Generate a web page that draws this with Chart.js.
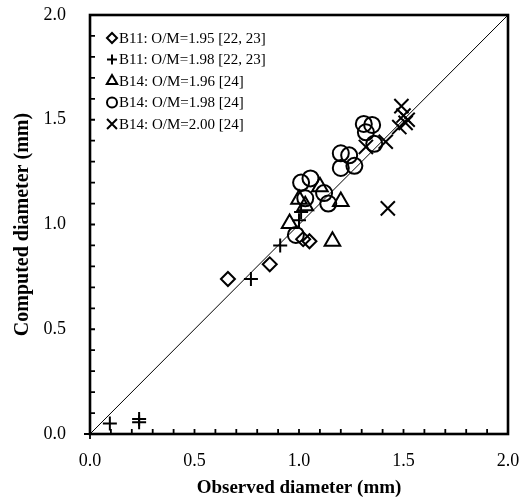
<!DOCTYPE html>
<html>
<head>
<meta charset="utf-8">
<script src="https://cdn.jsdelivr.net/npm/chart.js@4.4.1/dist/chart.umd.min.js"></script>
<style>
  html, body { margin: 0; padding: 0; background: #fff; }
</style>
</head>
<body>
<canvas id="chart" width="520" height="500"></canvas>
<script>
// Series names (legend)
const seriesNames = [
  'B11: O/M=1.95 [22, 23]',
  'B11: O/M=1.98 [22, 23]',
  'B14: O/M=1.96 [24]',
  'B14: O/M=1.98 [24]',
  'B14: O/M=2.00 [24]'
];

// Observed (x) and computed (y) diameters, mm
const b11_195_x = [0.66, 0.86, 1.02, 1.05];
const b11_195_y = [0.74, 0.81, 0.93, 0.92];

const b11_198_x = [0.095, 0.235, 0.235, 0.77, 0.91, 1.00, 1.01];
const b11_198_y = [0.05, 0.056, 0.072, 0.74, 0.90, 1.02, 1.06];

const b14_196_x = [0.955, 1.00, 1.03, 1.10, 1.20, 1.16];
const b14_196_y = [1.005, 1.12, 1.09, 1.18, 1.11, 0.92];

const b14_198_x = [0.985, 1.01, 1.055, 1.03, 1.12, 1.14, 1.20, 1.24, 1.20, 1.265, 1.31, 1.35, 1.32, 1.36];
const b14_198_y = [0.95, 1.20, 1.22, 1.125, 1.15, 1.10, 1.34, 1.33, 1.27, 1.28, 1.48, 1.475, 1.44, 1.385];

const b14_200_x = [1.49, 1.50, 1.52, 1.51, 1.48, 1.415, 1.32, 1.425];
const b14_200_y = [1.565, 1.52, 1.50, 1.485, 1.465, 1.395, 1.37, 1.077];

// 1:1 line
const diagX = [0, 2];
const diagY = [0, 2];

// Axis ticks
const tickValues = [0, 0.5, 1.0, 1.5, 2.0];
const minorStep = 0.1;

function pts(xs, ys) {
  return xs.map((x, i) => ({ x: x, y: ys[i] }));
}

const pointStyles = ['rectRot', 'cross', 'triangle', 'circle', 'crossRot'];
const pointSizes = [7, 7, 9, 8, 10];
const allX = [b11_195_x, b11_198_x, b14_196_x, b14_198_x, b14_200_x];
const allY = [b11_195_y, b11_198_y, b14_196_y, b14_198_y, b14_200_y];

const datasets = seriesNames.map((name, i) => ({
  type: 'scatter',
  label: name,
  data: pts(allX[i], allY[i]),
  pointStyle: pointStyles[i],
  pointRadius: pointSizes[i],
  borderColor: '#000',
  backgroundColor: 'rgba(0,0,0,0)',
  pointBorderWidth: 2
}));

datasets.unshift({
  type: 'line',
  label: '1:1',
  data: pts(diagX, diagY),
  borderColor: '#000',
  borderWidth: 1,
  pointRadius: 0,
  fill: false
});

// Frame, inward ticks and legend inside the plot
const decorations = {
  id: 'decorations',
  afterDraw(chart) {
    const ctx = chart.ctx;
    const a = chart.chartArea;
    const xs = chart.scales.x;
    const ys = chart.scales.y;
    ctx.save();
    ctx.strokeStyle = '#000';

    // minor + major ticks, inward
    ctx.lineWidth = 1.8;
    ctx.beginPath();
    for (let k = 0; k <= 20; k++) {
      const v = k * minorStep;
      const px = xs.getPixelForValue(v);
      ctx.moveTo(px, a.bottom);
      ctx.lineTo(px, a.bottom - 5);
      const py = ys.getPixelForValue(v);
      ctx.moveTo(a.left, py);
      ctx.lineTo(a.left + 5, py);
    }
    // small outward stubs at origin
    ctx.moveTo(a.left, a.bottom);
    ctx.lineTo(a.left, a.bottom + 5);
    ctx.moveTo(a.left, a.bottom);
    ctx.lineTo(a.left - 6, a.bottom);
    ctx.stroke();

    // frame
    ctx.lineWidth = 2.6;
    ctx.strokeRect(a.left, a.top, a.right - a.left, a.bottom - a.top);

    // legend
    ctx.font = '15px "Liberation Serif", "Times New Roman", serif';
    ctx.textBaseline = 'middle';
    ctx.textAlign = 'left';
    seriesNames.forEach((name, i) => {
      const y = a.top + 23 + i * 21.5;
      const mx = a.left + 22;
      ctx.lineWidth = 2;
      ctx.fillStyle = 'rgba(0,0,0,0)';
      Chart.helpers.drawPoint(ctx, {
        pointStyle: pointStyles[i],
        radius: i === 4 ? 7 : (i === 2 ? 6 : 5),
        rotation: 0,
        borderWidth: 2
      }, mx, y);
      ctx.fillStyle = '#000';
      ctx.fillText(name, mx + 7, y + 1);
    });
    ctx.restore();
  }
};

const serif = '"Liberation Serif", "Times New Roman", serif';
const tickFont = { family: serif, size: 18 };

const ctx = document.getElementById('chart').getContext('2d');
const chart = new Chart(ctx, {
  data: { datasets: datasets },
  options: {
    responsive: false,
    animation: false,
    layout: { padding: { top: 15, right: 11, left: 0, bottom: 0 } },
    scales: {
      x: {
        type: 'linear',
        min: 0,
        max: 2,
        grid: { display: false },
        border: { display: false },
        afterBuildTicks(scale) {
          scale.ticks = tickValues.map(v => ({ value: v }));
        },
        afterFit(scale) {
          scale.height = 66;
          scale.paddingLeft = 0;
          scale.paddingRight = 0;
        },
        ticks: {
          color: '#000',
          font: tickFont,
          padding: 8,
          maxRotation: 0,
          callback: v => v.toFixed(1)
        },
        title: {
          display: true,
          text: 'Observed diameter (mm)',
          color: '#000',
          font: { family: serif, size: 19, weight: 'bold' },
          padding: { top: 0, bottom: 1 }
        }
      },
      y: {
        type: 'linear',
        min: 0,
        max: 2,
        grid: { display: false },
        border: { display: false },
        afterBuildTicks(scale) {
          scale.ticks = tickValues.map(v => ({ value: v }));
        },
        afterFit(scale) {
          scale.width = 90;
          scale.paddingTop = 0;
          scale.paddingBottom = 0;
        },
        ticks: {
          color: '#000',
          font: tickFont,
          padding: 16,
          callback: v => v.toFixed(1)
        },
        title: {
          display: true,
          text: 'Computed diameter (mm)',
          color: '#000',
          font: { family: serif, size: 20, weight: 'bold' },
          padding: { top: 11, bottom: 0 }
        }
      }
    },
    plugins: {
      legend: { display: false },
      tooltip: { enabled: false }
    }
  },
  plugins: [decorations]
});
</script>
</body>
</html>
